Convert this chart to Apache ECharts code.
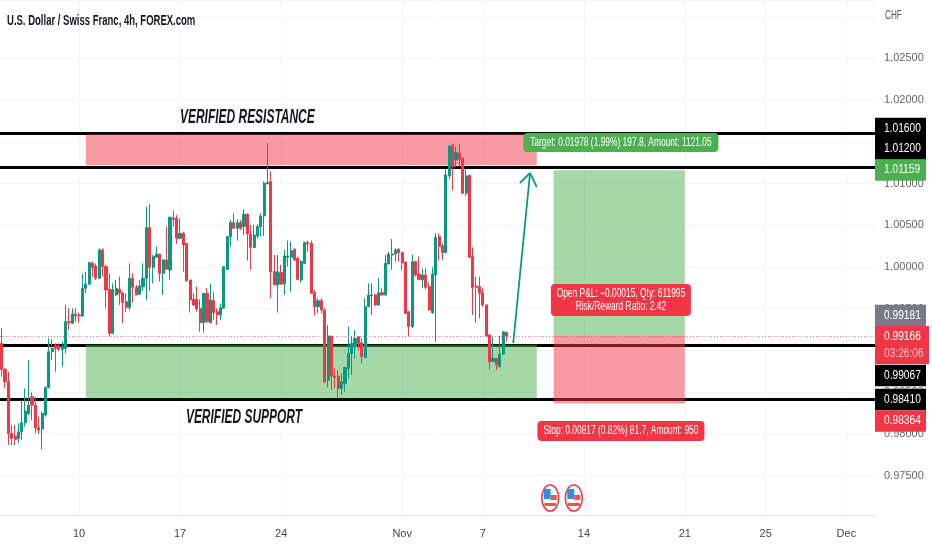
<!DOCTYPE html>
<html><head><meta charset="utf-8">
<style>html,body{margin:0;padding:0;background:#fff}#c{width:932px;height:550px}</style>
<script src="https://cdn.jsdelivr.net/npm/echarts@6/dist/echarts.min.js"></script>
</head><body><div id="c"></div>
<script>
const opens=[.99084,.98772,.98624,.98004,.97972,.97944,.98024,.98132,.98244,.98444,.98344,.98072,.98056,.98224,.98556,.98984,.99064,.99052,.99012,.99024,.99344,.99324,.99436,.99424,.99412,.99744,.99796,1.00044,1.00012,.99864,1.00204,1.00004,.99732,.99204,.99664,.99732,.99684,.99584,.99516,.99864,.99756,.99672,.99764,.99864,1.00472,.99996,1.00116,1.00156,.99924,1.00084,.99964,1.00584,1.00584,1.00344,1.00404,1.00284,.99844,.99612,.99612,.99504,.99332,.99684,.99332,.99596,.99464,.99424,.99504,.99972,1.00364,1.00532,1.00464,1.00532,1.00484,1.00632,1.00396,1.00232,1.00372,1.00484,1.00612,1.00996,1.01024,.99944,.99784,.99932,.99796,1.00116,1.00116,1.00212,1.00104,.99844,1.00044,1.00292,1.00284,.99692,.99524,.99596,.99484,.98644,.99172,.98692,.98692,.98544,.98604,.98784,.98964,.99044,.99164,.99092,.98916,.99524,.99652,.99664,.99544,.99692,.99664,1.00036,1.00156,1.00156,1.00212,1.00172,1.0006,.99464,.99284,1.00064,.99916,.99844,.99904,.99764,.99452,.99904,1.00364,1.00252,1.00172,1.01092,1.01452,1.01284,1.01364,1.01304,1.00884,1.011,1.00124,.99772,.99764,.99692,.99544,.99184,.98864,.98904,.98804,.98956,.99216];
const closes=[.98772,.98624,.98004,.97944,.97932,.98024,.98132,.98272,.98344,.98344,.98072,.98044,.98244,.98556,.98984,.99024,.99024,.99012,.99044,.99344,.99332,.99436,.99412,.99412,.99744,.99796,1.00052,.99996,.99864,1.00204,1.00004,.99724,.99204,.99732,.99744,.99684,.99576,.99516,.99864,.99756,.99664,.99772,.99864,1.00472,.99996,1.00124,1.00156,.99924,1.00084,.99972,1.00596,1.00572,1.00344,1.00404,1.00264,.99836,.99604,.99544,.99496,.99332,.99684,.99344,.99604,.99452,.99424,.99512,1.00004,1.00364,1.00532,1.00464,1.00532,1.00464,1.00632,1.00396,1.00236,1.00384,1.00484,1.00612,1.01004,1.01012,.99944,.99784,.99944,.99796,1.00132,1.00132,1.00196,1.00084,.99852,1.00064,1.00292,1.00276,.99684,.99524,.99596,.99484,.98624,.99172,.98692,.98676,.98544,.98624,.98796,.98964,.99084,.99144,.99084,.98924,.99524,.99664,.99664,.99544,.99692,.99664,1.00044,1.00156,1.00144,1.00204,1.00172,1.00052,.99444,.99284,1.00064,.99904,.99852,.99904,.99756,.99484,.99916,1.00356,1.00244,1.00172,1.01104,1.01452,1.01204,1.01372,1.01292,1.00884,1.01092,1.00116,.99756,.99756,.99684,.99544,.99172,.98864,.98904,.98824,.98956,.99224,.99172];
const lows=[.98684,.98544,.97864,.97864,.97864,.97884,.97924,.98084,.98224,.98164,.98004,.97996,.97812,.98204,.98544,.98884,.98744,.98996,.98804,.98964,.99244,.99316,.99344,.99332,.99404,.99684,.99784,.99884,.99844,.99856,.99884,.99504,.99172,.99196,.99656,.99544,.99324,.99464,.99484,.99572,.99664,.99664,.99716,.99604,.99716,.99804,1.00116,.99824,.99664,.99972,.99852,1.00484,1.00276,1.00332,.99944,.99824,.99452,.99532,.99464,.99224,.99212,.99332,.99324,.99364,.99304,.99364,.995,.99964,1.00244,1.00456,1.00316,1.00444,1.00384,1.00076,.99964,1.00224,1.00344,1.00364,1.00372,1.00996,.99624,.99784,.99452,.99784,.99664,1.00004,.99704,1.00076,.99844,.99812,1.00036,1.00184,.99684,.99416,.99444,.99444,.98604,.98556,.98524,.98544,.98424,.98464,.98504,.98664,.98704,.98904,.99004,.98844,.98904,.99516,.99424,.99532,.99532,.99656,.99656,1.00036,.99964,1.00064,1.00064,.99964,.99436,.99172,.99264,.99884,.99844,.99744,.99732,.99476,.99436,.99104,1.00076,1.00084,1.00164,1.01052,1.00916,1.01196,1.01204,1.00876,1.00852,1.00104,.99424,.99332,.99384,.99524,.99164,.98772,.98864,.98764,.98796,.98944,.99104];
const highs=[.99264,.98784,.98744,.98104,.98104,.98124,.98404,.98544,.98884,.98496,.98444,.98204,.98264,.98564,.99144,.99132,.99084,.99084,.99104,.99544,.99504,.99504,.99504,.99452,.99924,.99944,1.00064,1.00064,1.00044,1.00224,1.00224,1.00024,.99924,.99804,.99844,.99884,.99704,.99684,1.00044,.99924,.99784,.99844,1.00044,1.00724,1.00756,1.00144,1.00244,1.00156,1.00092,1.00484,1.00604,1.00676,1.00624,1.00584,1.00424,1.00284,.99844,.99684,.99764,.99612,.99684,.99744,.99796,.99704,.99504,.99564,1.00004,1.00372,1.00564,1.00644,1.00572,1.00564,1.00692,1.00644,1.00504,1.00504,1.00512,1.00644,1.01024,1.01484,1.01144,1.00144,1.00144,1.00024,1.00204,1.00316,1.00304,1.00224,1.00124,1.00084,1.00304,1.00316,1.00316,.99724,.99624,.99624,.99504,.99304,.99172,.98784,.98764,.98724,.98804,.99284,.99172,.99244,.99172,.99144,.99624,.99804,.99804,.99684,.99864,.99744,1.00144,1.00184,1.00336,1.00224,1.00224,1.00184,1.0006,.99464,1.00144,1.00076,1.00124,.99984,.99984,.99812,.99996,1.00404,1.00404,1.00284,1.01172,1.01464,1.01476,1.01444,1.01476,1.01304,1.01172,1.011,1.00236,.99884,.99884,.99744,.99552,.99196,.99156,.98904,.99172,.99224,.99224];

const slotCount=260;
const tickIndexes=[23,53,83,119,143,173,203,227,251];
const tickLabels=['10','17','24','Nov','7','14','21','25','Dec'];
const priceTicks=[.975,.98,.985,.99,.995,1,1.005,1.01,1.015,1.02,1.025];

const hLevels=[1.016,1.012,.99067,.9841];
const lastPrice=.99166;
const resistance=[25,159,1.0159,1.0122];
const support=[25,159,.99067,.98425];
const longProfit=[164,203,1.01159,.99181];
const longLoss=[164,203,.99181,.98364];
const arrowShaft=[[152,.99089],[157,1.01127]];
const arrowLeft=[[154,1.01007],[157,1.01127]];
const arrowRight=[[159,1.00959],[157,1.01127]];
const noteTexts=[[73,1.0180,'VERIFIED RESISTANCE'],[72,.98201,'VERIFIED SUPPORT']];
const infoBoxes=[[184,1.01493,'Target: 0.01978 (1.99%) 197.8, Amount: 1121.05','#4caf50'],
  [184,.99604,'Open P&L: \u22120.00015, Qty: 611995\nRisk/Reward Ratio: 2.42','#f23645'],
  [184,.98034,'Stop: 0.00817 (0.82%) 81.7, Amount: 950','#f23645']];
const boxWidths=[195,140,167];
const boxHeights=[19,32,20];
const flags=[[163,.9723],[170,.9723]];
// label text, price at which the tag sits on the scale after de-overlap, colour
const axisTags=[['1.01600',1.01661,'#000'],['1.01200',1.01415,'#000'],['1.01159',1.01163,'#4caf50'],
  ['0.99181',.99418,'#787b86'],['0.99166\n03:26:06',.99065,'#f23645'],['0.99067',.98699,'#000'],
  ['0.98410',.98411,'#000'],['0.98364',.98153,'#f23645']];

const SANS='"Liberation Sans",sans-serif';
const categories=Array.from({length:slotCount},(_,i)=>{const k=tickIndexes.indexOf(i);return k<0?'':tickLabels[k];});
const candles=opens.map((o,i)=>[o,closes[i],lows[i],highs[i]]);
const zoneArea=(z,color)=>[{xAxis:z[0],yAxis:z[2],itemStyle:{color}},{xAxis:z[1],yAxis:z[3]}];
const seg=(s)=>[{coord:s[0]},{coord:s[1]}];

const chart=echarts.init(document.getElementById('c'),null,{renderer:'canvas'});
chart.setOption({
  animation:false,
  backgroundColor:'#fff',
  graphic:[
    {type:'text',x:7,y:21,scaleX:.68,z:20,style:{text:'U.S. Dollar / Swiss Franc, 4h, FOREX.com',font:'bold 14px '+SANS,fill:'#131722',verticalAlign:'middle'}},
    {type:'text',x:885,y:16,scaleX:.68,z:20,style:{text:'CHF',font:'12px '+SANS,fill:'#555',verticalAlign:'middle'}}
  ],
  grid:{left:0,right:57,top:0,bottom:32.8,containLabel:false},
  xAxis:{type:'category',data:categories,offset:-2,boundaryGap:true,
    axisLine:{lineStyle:{color:'#e0e3eb'}},axisTick:{show:false,alignWithLabel:true},
    axisLabel:{interval:(i)=>tickIndexes.includes(i),fontFamily:SANS,fontSize:11,color:'#444',margin:13,hideOverlap:false},
    splitLine:{show:true,alignWithLabel:true,interval:(i)=>tickIndexes.includes(i),lineStyle:{color:'#f3f4f6'}}},
  yAxis:{type:'value',position:'right',min:.97,max:1.03201,interval:.005,
    axisLine:{show:false},axisTick:{show:false},
    axisLabel:{fontFamily:SANS,fontSize:11,color:'#666',margin:9,
      formatter:(v)=>priceTicks.some(t=>Math.abs(t-v)<1e-6)?v.toFixed(5):''},
    splitLine:{show:true,showMinLine:false,lineStyle:{color:'#f3f4f6'}}},
  series:[
    {type:'line',name:'levels',data:[],z:1,silent:true,
      markLine:{z:1,silent:true,precision:5,symbol:'none',label:{show:false},lineStyle:{color:'#000',width:3,type:'solid'},
        data:hLevels.map(v=>({yAxis:v}))}},
    {type:'line',name:'zones',data:[],z:2,silent:true,
      markArea:{z:2,silent:true,precision:5,data:[
        zoneArea(resistance,'rgba(242,54,69,.5)'),
        zoneArea(support,'rgba(76,175,80,.5)'),
        zoneArea(longProfit,'rgba(76,175,80,.5)'),
        zoneArea(longLoss,'rgba(242,54,69,.5)')]}},
    {type:'candlestick',name:'USDCHF',data:candles,z:3,barWidth:2.6,
      itemStyle:{color:'#089981',color0:'#f23645',borderColor:'#089981',borderColor0:'#f23645',borderWidth:1},
      markLine:{z:4,silent:true,precision:5,symbol:'none',label:{show:false},
        lineStyle:{color:'rgba(242,54,69,.7)',width:1,type:[1,2]},data:[{yAxis:lastPrice}]}},
    {type:'line',name:'arrow',data:[],z:5,silent:true,
      markLine:{z:5,silent:true,precision:5,symbol:'none',label:{show:false},lineStyle:{color:'#089981',width:1.8,type:'solid'},
        data:[seg(arrowShaft),seg(arrowLeft),seg(arrowRight)]}},
    {type:'custom',name:'notes',data:noteTexts,z:6,silent:true,clip:false,
      renderItem:(p,api)=>{const d=noteTexts[p.dataIndex];const c=api.coord([d[0],d[1]]);
        return {type:'text',x:c[0],y:c[1],scaleX:.57,style:{text:d[2],font:'italic bold 21px '+SANS,fill:'#131722',align:'center',verticalAlign:'middle'}};}},
    {type:'custom',name:'boxes',data:infoBoxes,z:7,silent:true,clip:false,
      renderItem:(p,api)=>{const i=p.dataIndex,d=infoBoxes[i];const c=api.coord([d[0],d[1]]);const w=boxWidths[i],h=boxHeights[i];
        return {type:'group',x:c[0],y:c[1],children:[
          {type:'rect',shape:{x:-w/2,y:-h/2,width:w,height:h,r:4},style:{fill:d[3]}},
          {type:'text',x:0,y:0,scaleX:.7,style:{text:d[2],fill:'#fff',font:'12px '+SANS,align:'center',verticalAlign:'middle',lineHeight:13}}]};}},
    {type:'custom',name:'flags',data:flags,z:7,silent:true,clip:false,
      renderItem:(p,api)=>{const c=api.coord([api.value(0),api.value(1)]);
        return {type:'group',x:c[0],y:c[1],children:[
          {type:'ellipse',shape:{cx:0,cy:0,rx:8.5,ry:13},style:{fill:'#fff',stroke:'#f23645',lineWidth:1.6}},
          {type:'rect',shape:{x:-6.5,y:-9,width:7,height:10},style:{fill:'#2e8fe8'}},
          {type:'rect',shape:{x:.5,y:-3,width:6,height:5},style:{fill:'#ef5350'}},
          {type:'rect',shape:{x:-6,y:5,width:12,height:3},style:{fill:'#ef5350'}}]};}},
    {type:'custom',name:'axisTags',data:axisTags,z:8,silent:true,clip:false,
      renderItem:(p,api)=>{const d=axisTags[p.dataIndex];const y=api.coord([0,d[1]])[1];
        const x=p.coordSys.x+p.coordSys.width;const two=d[0].includes('\n');const h=two?38:21.5;const lines=d[0].split('\n');
        const kids=[{type:'rect',shape:{x:x,y:y-h/2,width:two?54:51,height:h},style:{fill:d[2]}},
          {type:'text',x:x+9,y:two?y-8:y,scaleX:.85,style:{text:lines[0],fill:'#fff',font:'12px '+SANS,verticalAlign:'middle'}}];
        if(two)kids.push({type:'text',x:x+9,y:y+9,scaleX:.85,style:{text:lines[1],fill:'#ffc0c5',font:'12px '+SANS,verticalAlign:'middle'}});
        return {type:'group',children:kids};}}
  ]
});
</script></body></html>
